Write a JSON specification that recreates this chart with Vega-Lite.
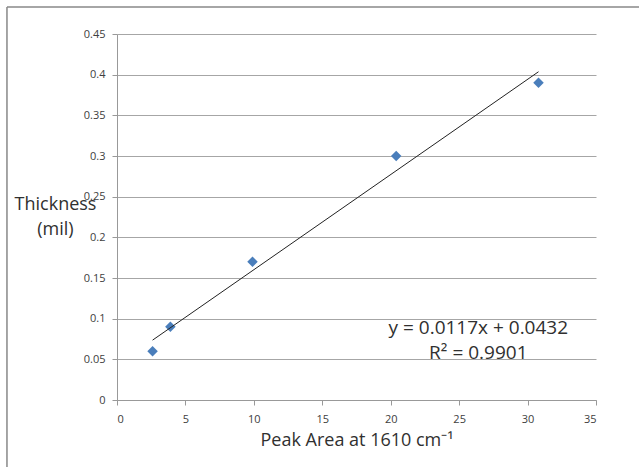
{
  "$schema": "https://vega.github.io/schema/vega-lite/v6.json",
  "width": 479,
  "height": 366,
  "autosize": {"type": "none"},
  "padding": {"left": 117, "top": 34, "right": 43, "bottom": 67},
  "background": "white",
  "config": {
    "view": {"stroke": null},
    "font": "Open Sans",
    "axis": {"labelFont": "Open Sans", "titleFont": "Open Sans", "labelColor": "#404040", "titleColor": "#303030", "titleFontWeight": "normal"}
  },
  "datasets": {
    "points": [
      {"area": 2.6, "thickness": 0.06},
      {"area": 3.9, "thickness": 0.09},
      {"area": 9.9, "thickness": 0.17},
      {"area": 20.4, "thickness": 0.30},
      {"area": 30.8, "thickness": 0.39}
    ],
    "trend": [
      {"area": 2.6, "thickness": 0.0736},
      {"area": 30.8, "thickness": 0.4036}
    ]
  },
  "layer": [
    {
      "data": {"name": "points"},
      "mark": {"type": "point", "shape": "diamond", "filled": true, "size": 110, "color": "#4a7ebb", "opacity": 1},
      "encoding": {
        "x": {"field": "area", "type": "quantitative",
          "scale": {"domain": [0, 35], "nice": false, "zero": true},
          "axis": {"values": [0,5,10,15,20,25,30,35], "grid": false, "domainColor": "#999", "tickColor": "#999", "tickSize": 5, "labelFontSize": 11, "labelPadding": 8,
            "title": "Peak Area at 1610 cm\u207b\u00b9", "titleFontSize": 18, "titlePadding": 7}},
        "y": {"field": "thickness", "type": "quantitative",
          "scale": {"domain": [0, 0.45], "nice": false},
          "axis": {"values": [0,0.05,0.1,0.15,0.2,0.25,0.3,0.35,0.4,0.45], "format": "~g", "grid": true, "gridColor": "#a6a6a6", "domainColor": "#999", "tickColor": "#999", "tickSize": 5, "labelFontSize": 11, "labelPadding": 7,
            "title": ["Thickness", "(mil)"], "titleFontSize": 18, "titleAngle": 0, "titleAlign": "center", "titleBaseline": "middle", "titleX": -62, "titleY": 170, "titleLineHeight": 25}}
      }
    },
    {
      "data": {"name": "trend"},
      "mark": {"type": "line", "color": "#222", "strokeWidth": 1},
      "encoding": {
        "x": {"field": "area", "type": "quantitative"},
        "y": {"field": "thickness", "type": "quantitative"}
      }
    },
    {
      "data": {"values": [{}]},
      "mark": {"type": "text", "text": ["y = 0.0117x + 0.0432", "R\u00b2 = 0.9901"], "fontSize": 19, "lineHeight": 25, "color": "#303030", "align": "center", "baseline": "middle"},
      "encoding": {
        "x": {"datum": 26.4, "type": "quantitative"},
        "y": {"datum": 0.088, "type": "quantitative"}
      }
    },
    {
      "data": {"values": [{}]},
      "mark": {"type": "rule", "color": "#888", "strokeWidth": 1.5, "clip": false},
      "encoding": {
        "x": {"datum": -8.04, "type": "quantitative"},
        "y": {"datum": 0.4832, "type": "quantitative"},
        "y2": {"datum": -0.1}
      }
    },
    {
      "data": {"values": [{}]},
      "mark": {"type": "rule", "color": "#888", "strokeWidth": 1.5, "clip": false},
      "encoding": {
        "x": {"datum": -8.04, "type": "quantitative"},
        "x2": {"datum": 40},
        "y": {"datum": 0.4832, "type": "quantitative"}
      }
    }
  ]
}
